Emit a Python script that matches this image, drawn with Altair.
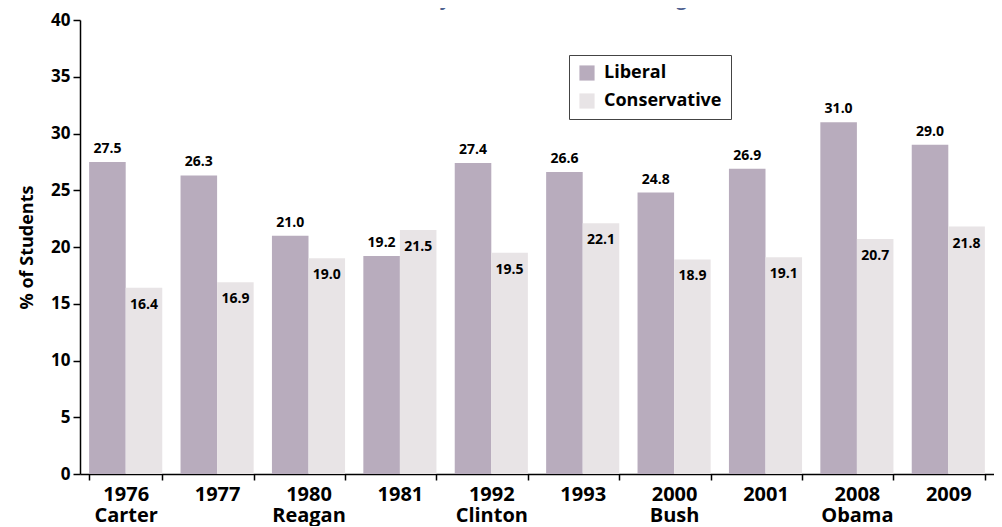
import altair as alt
import pandas as pd

categories = ["1976|Carter", "1977", "1980|Reagan", "1981", "1992|Clinton",
              "1993", "2000|Bush", "2001", "2008|Obama", "2009"]
liberal = [27.5, 26.3, 21.0, 19.2, 27.4, 26.6, 24.8, 26.9, 31.0, 29.0]
conservative = [16.4, 16.9, 19.0, 21.5, 19.5, 22.1, 18.9, 19.1, 20.7, 21.8]
series = ["Liberal", "Conservative"]
colors = ["#b8acbd", "#e8e4e6"]
title_text = "Election When the Party in the White House Changes"

rows = []
for c, l, k in zip(categories, liberal, conservative):
    rows.append({"cat": c, "series": "Liberal", "value": l})
    rows.append({"cat": c, "series": "Conservative", "value": k})
df = pd.DataFrame(rows)

FONT = "Open Sans"

x = alt.X("cat:N", sort=categories, title=None,
          scale=alt.Scale(paddingInner=0.2, paddingOuter=0.1),
          axis=alt.Axis(labelExpr="split(datum.label, '|')", labelAngle=0,
                        labelFontSize=20, labelFontWeight="bold", labelFont=FONT,
                        labelColor="black", labelLineHeight=21, labelPadding=4,
                        tickBand="extent", tickSize=6, tickColor="black",
                        domainColor="black", tickWidth=1.5, domainWidth=1.5))
xo = alt.XOffset("series:N", sort=series, scale=alt.Scale(domain=series, paddingInner=0, paddingOuter=0))
y = alt.Y("value:Q", title="% of Students",
          scale=alt.Scale(domain=[0, 40], nice=False),
          axis=alt.Axis(values=list(range(0, 41, 5)), grid=False,
                        labelFontSize=17, labelFontWeight="bold", labelFont=FONT,
                        labelColor="black", labelPadding=3, tickSize=7,
                        tickColor="black", domainColor="black", tickWidth=1.5,
                        domainWidth=1.5, titleFont=FONT, titleFontSize=18,
                        titleFontWeight="bold", titleColor="black", titlePadding=14))

base = alt.Chart(df)

bars = base.mark_bar().encode(
    x=x, xOffset=xo, y=y,
    color=alt.Color("series:N", sort=series,
                    scale=alt.Scale(domain=series, range=colors),
                    legend=alt.Legend(title=None, orient="none", legendX=489, legendY=35,
                                      direction="vertical", strokeColor="#444444",
                                      padding=9, symbolType="square", symbolSize=230,
                                      symbolStrokeWidth=0, labelFont=FONT,
                                      labelFontSize=18, labelFontWeight="bold",
                                      labelColor="black", rowPadding=10,
                                      labelOffset=8, fillColor="white",
                                      symbolOpacity=1)),
)

lib_labels = base.transform_filter(alt.datum.series == "Liberal").mark_text(
    font=FONT, fontSize=14, fontWeight="bold", color="black",
    baseline="alphabetic", dy=-9
).encode(x=x, xOffset=xo, y=y, text=alt.Text("value:Q", format=".1f"))

con_labels = base.transform_filter(alt.datum.series == "Conservative").mark_text(
    font=FONT, fontSize=14, fontWeight="bold", color="black",
    baseline="alphabetic", dy=21
).encode(x=x, xOffset=xo, y=y, text=alt.Text("value:Q", format=".1f"))

title = alt.Chart(pd.DataFrame({"t": [title_text]})).mark_text(
    font=FONT, fontSize=18, fontWeight="bold", color="#4f6290",
    align="center", baseline="alphabetic"
).encode(x=alt.value(390), y=alt.value(-14), text="t:N")

chart = alt.layer(bars, lib_labels, con_labels, title).properties(
    width=914, height=454,
    autosize=alt.AutoSizeParams(type="none"),
    padding={"left": 72, "top": 12, "right": 0, "bottom": 52},
).configure_view(stroke=None)

chart.save("out.html", embed_options={"renderer": "svg", "actions": False})
